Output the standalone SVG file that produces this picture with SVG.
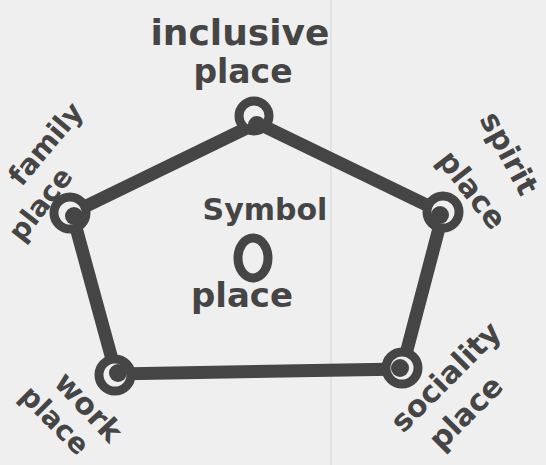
<svg xmlns="http://www.w3.org/2000/svg" width="546" height="465" viewBox="0 0 546 465">
<style>
.bg{fill:#efefef}
.edge{stroke:#454545;stroke-width:13;stroke-linecap:round;fill:none}
.ring{stroke:#454545;stroke-width:9;fill:#efefef}
.dot{fill:#454545}
.lbl{font-family:"DejaVu Sans",sans-serif;font-weight:bold;fill:#454545;text-anchor:middle}
</style>
<rect class="bg" x="0" y="0" width="546" height="465"/>
<line x1="331" y1="0" x2="331" y2="465" stroke="#e2e2e2" stroke-width="2"/>
<g id="connectors">
<path class="edge" d="M257,123 L72,213 L116,374 L402,369 L443,213 Z"/>
</g>
<g id="inclusive">
<circle class="ring" cx="254" cy="116" r="15"/>
<circle class="dot" cx="257" cy="125" r="9"/>
<text class="lbl" x="240" y="45" font-size="36">inclusive</text>
<text class="lbl" x="243" y="83" font-size="33">place</text>
</g>
<g id="family">
<circle class="ring" cx="70" cy="213" r="16"/>
<circle class="dot" cx="74" cy="216" r="9"/>
<text class="lbl" font-size="28" transform="translate(53,150) rotate(-50)">family</text>
<text class="lbl" font-size="28" transform="translate(48,210) rotate(-52)">place</text>
</g>
<g id="spirit">
<circle class="ring" cx="443" cy="212" r="16"/>
<circle class="dot" cx="440" cy="215" r="9"/>
<text class="lbl" font-size="30" transform="translate(500,158) rotate(62)">spirit</text>
<text class="lbl" font-size="30" transform="translate(464,196) rotate(52)">place</text>
</g>
<g id="work">
<circle class="ring" cx="115" cy="375" r="16"/>
<circle class="dot" cx="118" cy="373" r="9"/>
<text class="lbl" font-size="30" transform="translate(81,414) rotate(47)">work</text>
<text class="lbl" font-size="28" transform="translate(48,427) rotate(45)">place</text>
</g>
<g id="sociality">
<circle class="ring" cx="402" cy="368" r="16"/>
<circle class="dot" cx="400" cy="368" r="9"/>
<text class="lbl" font-size="30" transform="translate(453,384) rotate(-45)">sociality</text>
<text class="lbl" font-size="30" transform="translate(473,420) rotate(-45)">place</text>
</g>
<g id="symbol">
<text class="lbl" x="265" y="220" font-size="30">Symbol</text>
<ellipse cx="253" cy="258" rx="15" ry="20" fill="none" stroke="#454545" stroke-width="9"/>
<text class="lbl" x="242" y="307" font-size="34">place</text>
</g>
</svg>
